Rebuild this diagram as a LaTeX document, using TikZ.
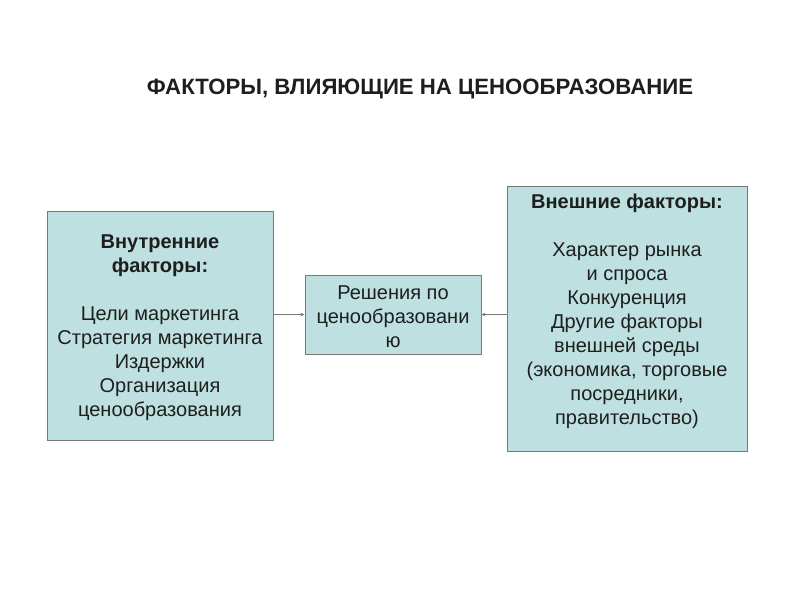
\documentclass[tikz,border=0pt]{standalone}
\usepackage{fontspec}
\setmainfont{Liberation Sans}
\usetikzlibrary{arrows.meta}
\definecolor{boxfill}{RGB}{190,224,224}
\definecolor{boxline}{RGB}{120,120,120}
\definecolor{txt}{RGB}{30,30,30}
\begin{document}
\begin{tikzpicture}[x=1pt,y=-1pt,
  fbox/.style={draw=boxline,fill=boxfill,line width=0.9pt,inner sep=0pt},
  btxt/.style={text=txt,align=center,font=\fontsize{20}{24}\selectfont},
  conn/.style={draw=boxline,line width=0.6pt,-{Stealth[length=4pt,width=3.5pt]}}]
\useasboundingbox (0,0) rectangle (800,600);
\node[text=txt,font=\bfseries\fontsize{22.2}{26}\selectfont] (title) at (420,89) {ФАКТОРЫ, ВЛИЯЮЩИЕ НА ЦЕНООБРАЗОВАНИЕ};
\node[fbox,minimum width=226pt,minimum height=229pt] (left) at (160,325.5) {};
\node[fbox,minimum width=176pt,minimum height=79pt] (mid) at (393,314.5) {};
\node[fbox,minimum width=240pt,minimum height=265pt] (right) at (627,318.5) {};
\node[btxt] (lefttxt) at (160,328) {\textbf{Внутренние}\\\textbf{факторы:}\\[24pt]Цели маркетинга\\Стратегия маркетинга\\Издержки\\Организация\\ценообразования};
\node[btxt] (midtxt) at (393,316.5) {Решения по\\ценообразовани\\ю};
\node[btxt] (righttxt) at (627,311) {\textbf{Внешние факторы:}\\[24pt]Характер рынка\\и спроса\\Конкуренция\\Другие факторы\\внешней среды\\(экономика, торговые\\посредники,\\правительство)};
\draw[conn] (left.east |- mid.west) -- (mid.west);
\draw[conn] (right.west |- mid.east) -- (mid.east);
\end{tikzpicture}
\end{document}
